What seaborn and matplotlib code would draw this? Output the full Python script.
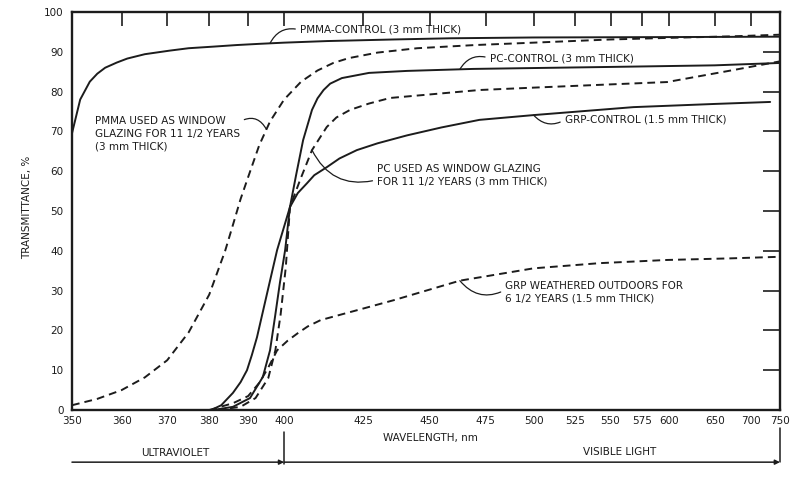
import numpy as np
import matplotlib
matplotlib.use("Agg")
import matplotlib.pyplot as plt
from matplotlib.ticker import NullLocator
import seaborn as sns

# Werte (Wellenlänge in nm, Transmission in %)
pmma_ctrl_wl = [350, 351.6, 353.5, 355, 356.6, 359, 361.2, 365, 370.6, 375, 381, 387, 393, 400, 413, 436, 459, 500, 600, 750]
pmma_ctrl_tr = [69.5, 78, 82.5, 84.5, 86, 87.3, 88.3, 89.4, 90.3, 90.9, 91.3, 91.7, 92.0, 92.3, 92.7, 93.1, 93.4, 93.6, 93.7, 93.8]

pmma_weath_wl = [350, 355, 360, 365, 370, 375, 380, 384, 386, 388, 390, 393, 396, 400, 405, 410, 415, 420, 430, 445, 470, 500, 550, 600, 675, 750]
pmma_weath_tr = [1.2, 2.8, 5.0, 8.2, 12.5, 19.5, 29, 40, 46.5, 53, 58.5, 66.5, 72.5, 78, 82.5, 85.3, 87.2, 88.4, 89.8, 90.9, 91.7, 92.3, 93.1, 93.5, 93.9, 94.3]

pc_ctrl_wl = [381, 386, 390.5, 394, 396, 397.4, 398.8, 400.3, 401.7, 403.5, 405.6, 408.3, 410, 411.9, 414, 417.8, 427, 441, 469, 550, 650, 750]
pc_ctrl_tr = [0, 0.8, 3, 8.3, 15, 23.4, 32, 40.2, 51, 59, 67.8, 75.4, 78.3, 80.4, 82, 83.4, 84.7, 85.2, 85.7, 86.2, 86.6, 87.2]

pc_weath_wl = [382, 388, 392, 395.5, 397.5, 399, 400.5, 401.7, 404.7, 408.3, 412.9, 416, 420.5, 427, 434.6, 472, 500, 542, 598, 674, 750]
pc_weath_tr = [0, 0.8, 3, 8, 15, 24, 36, 51, 57.8, 65.3, 71.1, 73.5, 75.4, 77, 78.4, 80.4, 81.0, 81.7, 82.4, 85.4, 87.6]

grp_ctrl_wl = [380.5, 383, 386, 388, 389.7, 391, 392.4, 395.2, 398, 401.7, 404, 406.8, 409, 412.9, 417, 422.8, 430, 441, 455, 472, 500, 568, 650, 732]
grp_ctrl_tr = [0, 1.2, 4.3, 7, 10, 13.8, 18.3, 29.4, 40.2, 51, 54.5, 57, 59, 61, 63.2, 65.3, 67, 69, 71, 72.9, 74.1, 76.1, 76.9, 77.4]

grp_weath_wl = [380, 386, 390, 393, 395.4, 398, 401, 404, 407, 411, 424, 436, 463, 500, 542, 598, 670, 750]
grp_weath_tr = [0, 1.7, 3.5, 6.8, 10.5, 15, 17.4, 19.3, 21, 22.6, 25.3, 27.6, 32.5, 35.6, 36.9, 37.7, 38.1, 38.5]

x_ticks = [350, 360, 370, 380, 390, 400, 425, 450, 475, 500, 525, 550, 575, 600, 650, 700, 750]
y_ticks = list(range(0, 101, 10))

sns.set_style("white")
plt.rcParams['font.family'] = ['DejaVu Sans']
ink = '#1c1c1c'

fig = plt.figure(figsize=(7.9, 4.88), dpi=100)
ax = fig.add_axes([0.0911, 0.1598, 0.8962, 0.8156])


# x-Achse: proportional zu 1/lambda^2
def fwd(x):
    x = np.clip(np.asarray(x, dtype=float), 1, None)
    return -1e6 / x ** 2


def inv(y):
    y = np.clip(-np.asarray(y, dtype=float), 1e-9, None)
    return np.sqrt(1e6 / y)


ax.set_xscale('function', functions=(fwd, inv))

dashed = (0, (4, 2.6))
curves = [
    (pmma_ctrl_wl, pmma_ctrl_tr, '-'),
    (pmma_weath_wl, pmma_weath_tr, dashed),
    (pc_ctrl_wl, pc_ctrl_tr, '-'),
    (pc_weath_wl, pc_weath_tr, dashed),
    (grp_ctrl_wl, grp_ctrl_tr, '-'),
    (grp_weath_wl, grp_weath_tr, dashed),
]
for wl, tr, ls in curves:
    sns.lineplot(x=wl, y=tr, ax=ax, color=ink, lw=1.4, linestyle=ls)

ax.set_xlim(350, 750)
ax.set_ylim(0, 100)
ax.set_xticks(x_ticks)
ax.set_xticklabels([str(t) for t in x_ticks])
ax.xaxis.set_minor_locator(NullLocator())
ax.set_yticks(y_ticks)
ax.tick_params(axis='x', direction='in', length=10, width=1.2, top=True,
               labelsize=7.5, pad=4, colors=ink)
ax.tick_params(axis='y', direction='in', length=12, width=1.2, right=True,
               labelsize=7.5, pad=6, colors=ink)
for sp in ax.spines.values():
    sp.set_linewidth(1.7)
    sp.set_color(ink)

ax.text(0.506, -0.07, 'WAVELENGTH, nm', transform=ax.transAxes, ha='center',
        va='center', fontsize=7.5, color=ink)
fig.text(27 / 790, 0.576, 'TRANSMITTANCE, %', rotation=90, ha='center',
         va='center', fontsize=7.5, color=ink)

# Bereich UV / sichtbares Licht unter der Achse
trans = ax.get_xaxis_transform()
yb = -0.131
ax.annotate('', xy=(400, yb), xytext=(350, yb), xycoords=trans, textcoords=trans,
            arrowprops=dict(arrowstyle='-|>', color=ink, lw=1.1, mutation_scale=7,
                            shrinkA=0, shrinkB=0))
ax.annotate('', xy=(750, yb), xytext=(400, yb), xycoords=trans, textcoords=trans,
            arrowprops=dict(arrowstyle='-|>', color=ink, lw=1.1, mutation_scale=7,
                            shrinkA=0, shrinkB=0))
ax.plot([400, 400], [-0.055, yb - 0.005], transform=trans, color=ink, lw=1.1, clip_on=False)
ax.plot([750, 750], [-0.045, yb], transform=trans, color=ink, lw=1.1, clip_on=False)
ax.text(0.146, -0.108, 'ULTRAVIOLET', transform=ax.transAxes, ha='center',
        va='center', fontsize=7.5, color=ink)
ax.text(0.774, -0.105, 'VISIBLE LIGHT', transform=ax.transAxes, ha='center',
        va='center', fontsize=7.5, color=ink)

# Beschriftungen mit Hinweislinien
notes = [
    ('PMMA-CONTROL (3 mm THICK)', pmma_ctrl_wl, pmma_ctrl_tr, 396,
     (0.322, 0.955), (0, 0.5), 0.4),
    ('PC-CONTROL (3 mm THICK)', pc_ctrl_wl, pc_ctrl_tr, 463,
     (0.590, 0.884), (0, 0.5), 0.4),
    ('PMMA USED AS WINDOW\nGLAZING FOR 11 1/2 YEARS\n(3 mm THICK)', pmma_weath_wl, pmma_weath_tr, 395,
     (0.032, 0.693), (1, 0.85), -0.5),
    ('PC USED AS WINDOW GLAZING\nFOR 11 1/2 YEARS (3 mm THICK)', pc_weath_wl, pc_weath_tr, 408.3,
     (0.431, 0.590), (0, 0.3), -0.4),
    ('GRP-CONTROL (1.5 mm THICK)', grp_ctrl_wl, grp_ctrl_tr, 500,
     (0.696, 0.729), (0, 0.5), -0.4),
    ('GRP WEATHERED OUTDOORS FOR\n6 1/2 YEARS (1.5 mm THICK)', grp_weath_wl, grp_weath_tr, 463,
     (0.612, 0.296), (0, 0.6), -0.4),
]
for label, wl, tr, w, pos, rel, rad in notes:
    ax.annotate(label, xy=(w, np.interp(w, wl, tr)), xycoords='data',
                xytext=pos, textcoords='axes fraction', ha='left', va='center',
                fontsize=7.5, color=ink, linespacing=1.35,
                arrowprops=dict(arrowstyle='-', color=ink, lw=0.9, relpos=rel,
                                connectionstyle=f'arc3,rad={rad}',
                                shrinkA=1, shrinkB=0))

fig.savefig('out.png', dpi=100, facecolor='white')
